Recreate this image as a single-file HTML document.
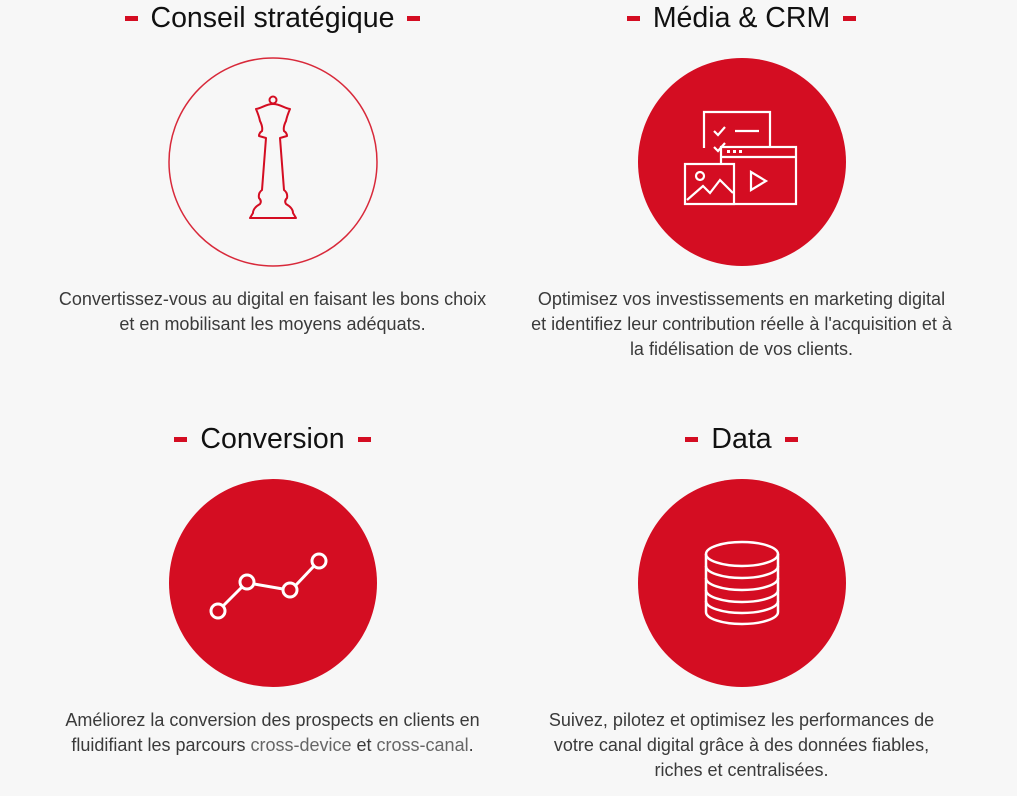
<!DOCTYPE html>
<html><head><meta charset="utf-8"><style>
html,body{margin:0;padding:0;background:#f7f7f7;width:1017px;height:796px;overflow:hidden;font-family:"Liberation Sans",sans-serif;}
.t{position:absolute;width:469px;text-align:center;font-size:28.5px;color:#111;line-height:36px;}
.t span.d{display:inline-block;width:13px;height:5px;background:#d40d22;vertical-align:middle;margin:0 13px;position:relative;top:-1px}
.p{position:absolute;width:469px;text-align:center;font-size:18px;color:#3a3a3a;line-height:25px;}
svg{position:absolute;left:0;top:0}
</style></head><body>
<div class="t" style="left:38px;top:0px"><span class="d"></span>Conseil stratégique<span class="d"></span></div>
<div class="t" style="left:507px;top:0px"><span class="d"></span>Média &amp; CRM<span class="d"></span></div>
<div class="t" style="left:38px;top:421px"><span class="d"></span>Conversion<span class="d"></span></div>
<div class="t" style="left:507px;top:421px"><span class="d"></span>Data<span class="d"></span></div>

<div class="p" style="left:38px;top:287px">Convertissez-vous au digital en faisant les bons choix<br>et en mobilisant les moyens adéquats.</div>
<div class="p" style="left:507px;top:287px">Optimisez vos investissements en marketing digital<br>et identifiez leur contribution réelle à l'acquisition et à<br>la fidélisation de vos clients.</div>
<div class="p" style="left:38px;top:708px">Améliorez la conversion des prospects en clients en<br>fluidifiant les parcours <span style="color:#666">cross-device</span> et <span style="color:#666">cross-canal</span>.</div>
<div class="p" style="left:507px;top:708px">Suivez, pilotez et optimisez les performances de<br>votre canal digital grâce à des données fiables,<br>riches et centralisées.</div>

<svg width="1017" height="796" viewBox="0 0 1017 796">
<circle cx="273" cy="162" r="104" fill="none" stroke="#d8293a" stroke-width="1.5"/>
<g fill="none" stroke="#d40d22" stroke-width="2" stroke-linejoin="round">
<circle cx="273" cy="100" r="3.5"/>
<path d="M273 104 C266 104 262 108 256 109 Q259 116 260 121 Q263 127 262 131 Q259 133 259 136 L266 138 Q264 165 262 190 Q258 193 259 198 Q262 201 260 204 Q253 208 253 213 L250 218 L296 218 L293 213 Q293 208 286 204 Q284 201 287 198 Q288 193 284 190 Q282 165 280 138 L287 136 Q287 133 284 131 Q283 127 286 121 Q287 116 290 109 C284 108 280 104 273 104 Z"/>
</g>

<circle cx="742" cy="162" r="104" fill="#d40d22"/>
<g fill="none" stroke="#fff" stroke-width="2.2">
<path d="M704 148 V112 H770 V146"/>
<path d="M714 131 l4 4 l7 -8 M735 131 H759"/>
<path d="M714 147 l4 4 l7 -8"/>
<rect x="721" y="147" width="75" height="57"/>
<line x1="721" y1="157" x2="796" y2="157"/>
<rect x="685" y="164" width="49" height="40" fill="#d40d22"/>
<circle cx="700" cy="176" r="4"/>
<path d="M687 200 L703 186 L710 193 L720 180 L733 193"/>
<path d="M751 172 L766 181 L751 190 Z"/>
</g>
<g fill="#fff"><rect x="727" y="150" width="3" height="3"/><rect x="733" y="150" width="3" height="3"/><rect x="739" y="150" width="3" height="3"/></g>

<circle cx="273" cy="583" r="104" fill="#d40d22"/>
<g fill="none" stroke="#fff" stroke-width="3">
<path d="M223 606 L242 587 M254 584 L283 589 M296 585 L314 566"/>
<circle cx="218" cy="611" r="7"/><circle cx="247" cy="582" r="7"/><circle cx="290" cy="590" r="7"/><circle cx="319" cy="561" r="7"/>
</g>

<circle cx="742" cy="583" r="104" fill="#d40d22"/>
<g fill="none" stroke="#fff" stroke-width="2.5">
<ellipse cx="742" cy="554" rx="36" ry="12"/>
<path d="M706 554 V612 a36 12 0 0 0 72 0 V554"/>
<path d="M706 566 a36 12 0 0 0 72 0 M706 578 a36 12 0 0 0 72 0 M706 590 a36 12 0 0 0 72 0 M706 601 a36 12 0 0 0 72 0"/>
</g>
</svg>
</body></html>
